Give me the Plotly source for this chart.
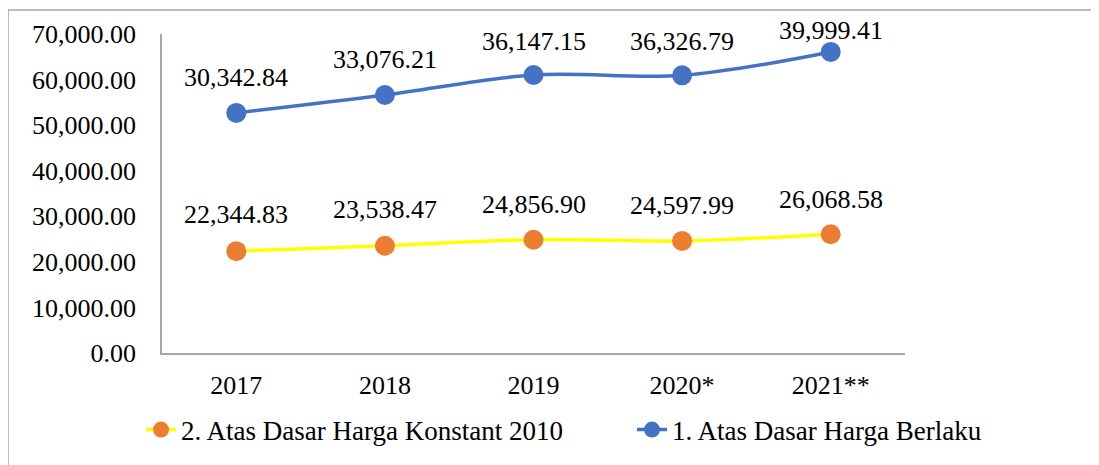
import plotly.graph_objects as go

years = ["2017", "2018", "2019", "2020*", "2021**"]
konstan = [22344.83, 23538.47, 24856.90, 24597.99, 26068.58]
berlaku = [30342.84, 33076.21, 36147.15, 36326.79, 39999.41]
name_konstan = "2. Atas Dasar Harga Konstant 2010"
name_berlaku = "1. Atas Dasar Harga Berlaku"
y_ticks = [0, 10000, 20000, 30000, 40000, 50000, 60000, 70000]

# stacked line chart: the second series is drawn on top of the first
stacked_total = [k + b for k, b in zip(konstan, berlaku)]

FONT = "Liberation Serif, Times New Roman, serif"
FS = 26

fig = go.Figure()
fig.add_trace(go.Scatter(
    x=years, y=konstan, name=name_konstan, mode="lines+markers",
    line=dict(color="#FFFF00", width=3.5, shape="spline"),
    marker=dict(color="#ED7D31", size=20, line=dict(width=0)),
    legendwidth=446,
))
fig.add_trace(go.Scatter(
    x=years, y=stacked_total, name=name_berlaku, mode="lines+markers",
    line=dict(color="#4472C4", width=3.5, shape="spline"),
    marker=dict(color="#4472C4", size=20, line=dict(width=0)),
))

# data labels
shift_k = [37, 36, 35, 35, 35]
shift_b = [35, 36, 34, 34, 21]
for i, yr in enumerate(years):
    fig.add_annotation(x=i, y=konstan[i], text=f"{konstan[i]:,.2f}", showarrow=False,
                       yshift=shift_k[i], yanchor="middle", font=dict(family=FONT, size=FS, color="#000"))
    fig.add_annotation(x=i, y=stacked_total[i], text=f"{berlaku[i]:,.2f}", showarrow=False,
                       yshift=shift_b[i], yanchor="middle", font=dict(family=FONT, size=FS, color="#000"))

OFF = 8  # page body margin
W, H = 1099 - OFF, 465 - OFF
px0, px1, py0, py1 = 162 - OFF, 905 - OFF, 34 - OFF, 353 - OFF
L, R, T, B = px0, W - px1, py0, H - py1
pw, ph = px1 - px0, py1 - py0

def fx(p):
    return (p - OFF - px0) / pw

def fy(p):
    return (py1 - (p - OFF)) / ph

fig.add_shape(type="rect", xref="paper", yref="paper",
              x0=fx(8), x1=fx(1110), y0=fy(480), y1=fy(10),
              line=dict(color="#A6A6A6", width=1.5), layer="below")

fig.update_layout(
    width=W, height=H,
    margin=dict(l=L, r=R, t=T, b=B, autoexpand=False),
    paper_bgcolor="white", plot_bgcolor="white",
    font=dict(family=FONT, size=FS, color="#000"),
    showlegend=True,
    legend=dict(orientation="h",
                x=fx(141), xanchor="left",
                y=fy(430), yanchor="middle",
                font=dict(family=FONT, size=27, color="#000"),
                bgcolor="rgba(0,0,0,0)"),
    xaxis=dict(type="category", range=[-0.5, len(years) - 0.5],
               showgrid=False, showline=True, linecolor="#A6A6A6", linewidth=1.5,
               ticks="", ticklabelstandoff=8, zeroline=False,
               tickfont=dict(family=FONT, size=FS)),
    yaxis=dict(range=[0, 70000], tickvals=y_ticks, tickformat=",.2f",
               showgrid=False, showline=True, linecolor="#A6A6A6", linewidth=1.5,
               ticks="", ticklabelstandoff=19, zeroline=False,
               tickfont=dict(family=FONT, size=FS)),
)

fig.write_html("out.html")
